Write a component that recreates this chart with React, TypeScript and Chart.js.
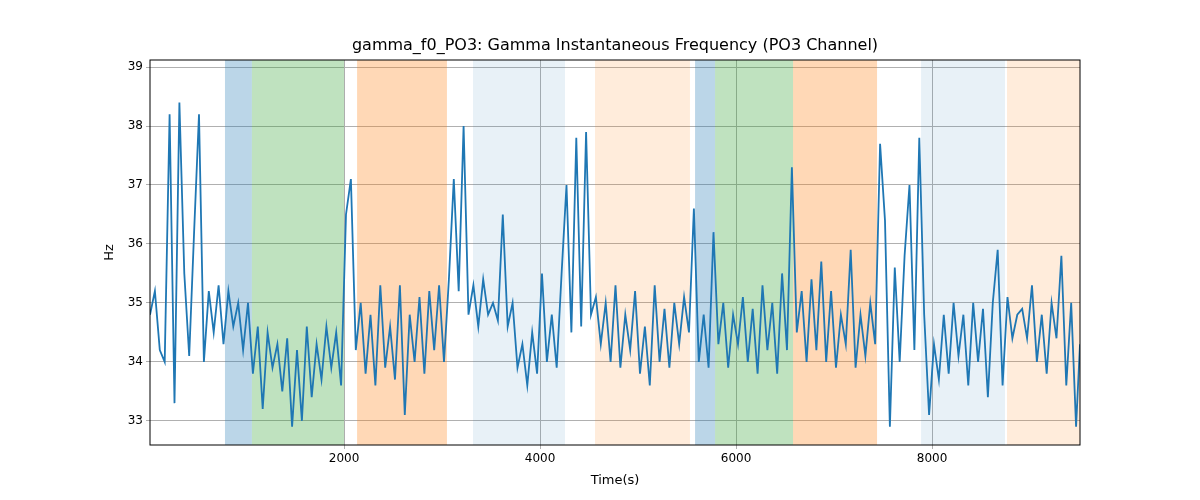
import React, { useEffect, useRef } from "react";
import { Chart, registerables } from "chart.js";
Chart.register(...registerables);

const X_START = 20;
const X_STEP = 50;
const hzValues = [34.8,35.2,34.2,34.0,38.2,33.3,38.4,35.5,34.1,36.2,38.2,34.0,35.2,34.5,35.3,34.3,35.2,34.6,35.0,34.2,
35.0,33.8,34.6,33.2,34.5,33.9,34.3,33.5,34.4,32.9,34.2,33.0,34.6,33.4,34.3,33.7,34.6,33.9,34.5,33.6,
36.5,37.1,34.2,35.0,33.8,34.8,33.6,35.3,33.9,34.6,33.7,35.3,33.1,34.8,34.0,35.1,33.8,35.2,34.2,35.3,
34.0,35.4,37.1,35.2,38.0,34.8,35.3,34.6,35.4,34.8,35.0,34.7,36.5,34.6,35.0,33.9,34.3,33.6,34.5,33.8,
35.5,34.0,34.8,33.9,35.5,37.0,34.5,37.8,34.6,37.9,34.8,35.1,34.3,35.0,34.0,35.3,33.9,34.8,34.2,35.2,
33.8,34.6,33.6,35.3,34.0,34.9,33.9,35.0,34.3,35.1,34.5,36.6,34.0,34.8,33.9,36.2,34.3,35.0,33.9,34.8,
34.3,35.1,34.0,34.9,33.8,35.3,34.2,35.0,33.8,35.5,34.2,37.3,34.5,35.2,34.0,35.4,34.2,35.7,34.0,35.2,
33.9,34.8,34.3,35.9,33.9,34.8,34.1,35.0,34.3,37.7,36.4,32.9,35.6,34.0,35.8,37.0,34.2,37.8,34.8,33.1,
34.3,33.7,34.8,33.8,35.0,34.1,34.8,33.6,35.0,34.0,34.9,33.4,35.0,35.9,33.6,35.1,34.4,34.8,34.9,34.4,
35.3,34.0,34.8,33.8,35.0,34.4,35.8,33.6,35.0,32.9,34.3];

const bandStarts = [785, 1060, 2133, 3316, 4561, 5582, 5786, 6582, 7888, 8765];
const bandEnds = [1060, 2000, 3050, 4255, 5530, 5786, 6582, 7439, 8745, 9510];
const bandColors = [
  "rgba(31,119,180,0.3)", "rgba(44,160,44,0.3)", "rgba(255,127,14,0.3)", "rgba(31,119,180,0.1)", "rgba(255,127,14,0.15)",
  "rgba(31,119,180,0.3)", "rgba(44,160,44,0.3)", "rgba(255,127,14,0.3)", "rgba(31,119,180,0.1)", "rgba(255,127,14,0.15)",
];
const xTicks = [2000, 4000, 6000, 8000];
const yTicks = [33, 34, 35, 36, 37, 38, 39];
const TITLE = "gamma_f0_PO3: Gamma Instantaneous Frequency (PO3 Channel)";
const X_LABEL = "Time(s)";
const Y_LABEL = "Hz";

export default function App() {
  const ref = useRef<HTMLCanvasElement>(null);
  useEffect(() => {
    const data = hzValues.map((v, i) => ({ x: Math.min(X_START + i * X_STEP, 9510), y: v }));
    const bands = {
      id: "bands",
      beforeDatasetsDraw(chart: any) {
        const { ctx, chartArea, scales } = chart;
        ctx.save();
        bandStarts.forEach((s, i) => {
          const a = scales.x.getPixelForValue(s);
          const b = scales.x.getPixelForValue(bandEnds[i]);
          ctx.fillStyle = bandColors[i];
          ctx.fillRect(a, chartArea.top, b - a, chartArea.bottom - chartArea.top);
        });
        ctx.restore();
      },
      afterDraw(chart: any) {
        const { ctx, chartArea } = chart;
        ctx.save();
        ctx.strokeStyle = "#000";
        ctx.lineWidth = 1;
        ctx.strokeRect(chartArea.left, chartArea.top, chartArea.right - chartArea.left, chartArea.bottom - chartArea.top);
        ctx.fillStyle = "#000";
        ctx.font = "16px 'DejaVu Sans'";
        ctx.textAlign = "center";
        ctx.textBaseline = "middle";
        const cx = (chartArea.left + chartArea.right) / 2;
        ctx.fillText(TITLE, cx, 46);
        ctx.font = "13px 'DejaVu Sans'";
        ctx.fillText(X_LABEL, cx, 481);
        ctx.translate(110, (chartArea.top + chartArea.bottom) / 2);
        ctx.rotate(-Math.PI / 2);
        ctx.fillText(Y_LABEL, 0, 0);
        ctx.restore();
      },
    };
    const chart = new Chart(ref.current!, {
      type: "line",
      data: { datasets: [{ data, borderColor: "#1f77b4", borderWidth: 1.8, pointRadius: 0, fill: false, tension: 0 }] },
      options: {
        animation: false,
        responsive: false,
        layout: { padding: { top: 60, right: 120, left: 0, bottom: 0 } },
        plugins: { legend: { display: false }, tooltip: { enabled: false } },
        scales: {
          x: {
            type: "linear", min: 20, max: 9510,
            afterFit: (s: any) => { s.height = 55; },
            ticks: { color: "#000", font: { family: "DejaVu Sans", size: 12 }, maxRotation: 0, callback: (v: any) => String(v) },
            afterBuildTicks: (s: any) => { s.ticks = xTicks.map((v) => ({ value: v })); },
            grid: { color: "#b0b0b0", tickLength: 4 },
            border: { display: false },
          },
          y: {
            min: 32.59, max: 39.12,
            afterFit: (s: any) => { s.width = 150; },
            afterBuildTicks: (s: any) => { s.ticks = yTicks.map((v) => ({ value: v })); },
            ticks: { color: "#000", font: { family: "DejaVu Sans", size: 12 }, callback: (v: any) => String(v) },
            grid: { color: "#b0b0b0", tickLength: 4 },
            border: { display: false },
          },
        },
      },
      plugins: [bands],
    });
    return () => chart.destroy();
  }, []);
  return (
    <div style={{ position: "fixed", left: 0, top: 0, width: 1200, height: 500, background: "#fff" }}>
      <canvas ref={ref} width={1200} height={500} />
    </div>
  );
}
